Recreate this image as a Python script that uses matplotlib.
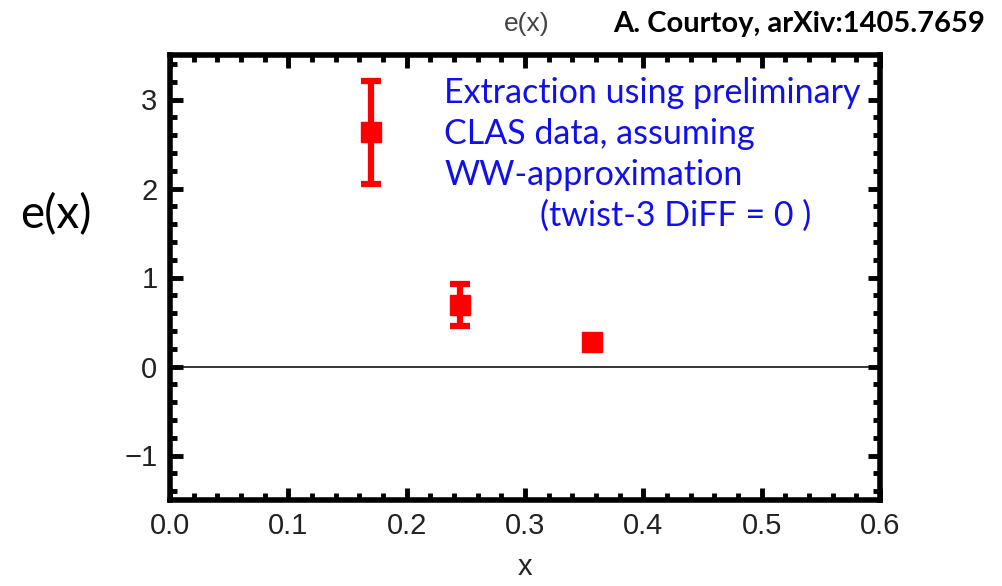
import numpy as np
import matplotlib
matplotlib.use('agg')
import matplotlib.pyplot as plt
from matplotlib.ticker import MultipleLocator

# data
x_vals = [0.170, 0.245, 0.357]
e_vals = [2.63, 0.69, 0.28]
e_errs = [0.58, 0.24, 0.06]
x_ticks = [0.0, 0.1, 0.2, 0.3, 0.4, 0.5, 0.6]
y_ticks = [-1, 0, 1, 2, 3]
note_lines = ["Extraction using preliminary", "CLAS data, assuming", "WW-approximation"]

fig = plt.figure(figsize=(10.03, 5.86), dpi=100)
ax = fig.add_axes([170/1003, 1 - 500/586, 710/1003, 445/586])

ax.axhline(0, color='black', lw=1.1, zorder=1)
ax.errorbar(x_vals, e_vals, yerr=e_errs, fmt='s', color='red', ms=14,
            elinewidth=4.5, capsize=7, capthick=4.5, zorder=3)

ax.set_xlim(0, 0.6)
ax.set_ylim(-1.5, 3.5)
ax.set_xticks(x_ticks)
ax.set_xticklabels(["%.1f" % v for v in x_ticks])
ax.set_yticks(y_ticks)
ax.set_yticklabels([("\u2212%d" % -v) if v < 0 else str(v) for v in y_ticks])
ax.xaxis.set_minor_locator(MultipleLocator(0.02))
ax.yaxis.set_minor_locator(MultipleLocator(0.2))
ax.tick_params(which='both', direction='in', top=True, right=True, width=3.5,
               colors='black', labelcolor='#222222', labelsize=21,
               labelfontfamily='Liberation Sans')
ax.tick_params(which='major', length=9, pad=9)
ax.tick_params(which='minor', length=5)
for s in ax.spines.values():
    s.set_linewidth(4)

ax.set_xlabel("x", fontsize=21, family='Liberation Sans', color='#222222', labelpad=9)

# blue annotation
for i, line in enumerate(note_lines):
    fig.text(444/1003, 1 - (93 + 41*i)/586, line, color='#1010ee', fontsize=24.5,
             family='Lato', ha='left', va='center')
fig.text(540/1003, 1 - 216/586, "(twist-3 DiFF = 0 )", color='#1010ee', fontsize=24.5,
         family='Lato', ha='left', va='center')

fig.text(20/1003, 1 - 215/586, "e(x)", fontsize=33, family='Lato', ha='left', va='center')
fig.text(527/1003, 1 - 24/586, "e(x)", fontsize=19, family='Liberation Sans',
         color='#444444', ha='center', va='center')
fig.text(985/1003, 1 - 24/586, "A. Courtoy, arXiv:1405.7659", fontsize=21,
         family='Lato', weight='bold', ha='right', va='center')

plt.savefig("out.png", dpi=100)
